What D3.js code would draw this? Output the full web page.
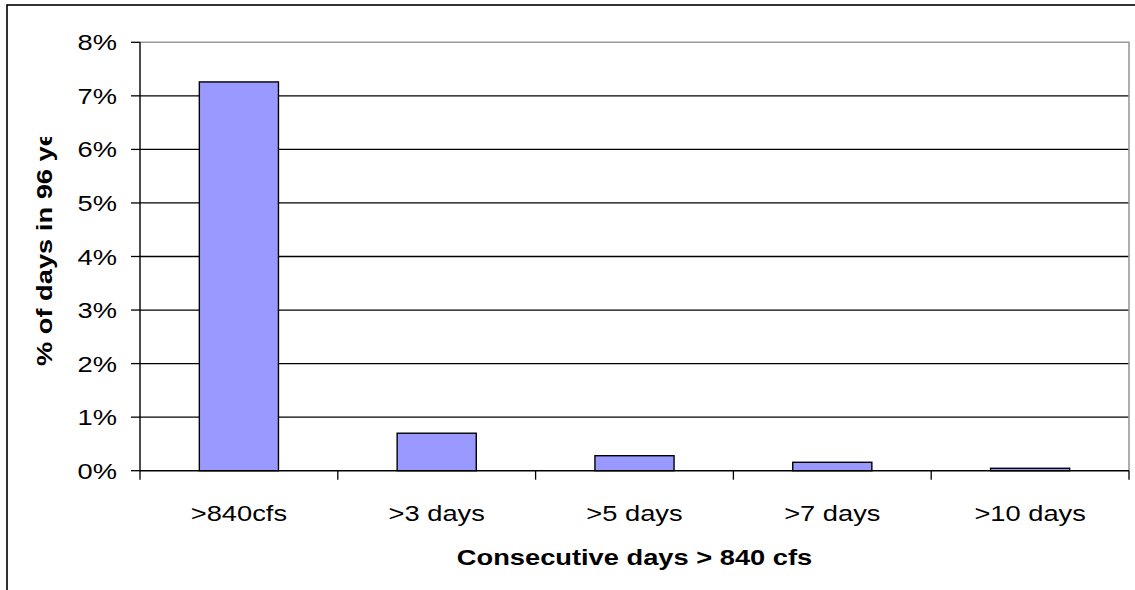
<!DOCTYPE html>
<html>
<head>
<meta charset="utf-8">
<script src="https://cdn.jsdelivr.net/npm/d3@7"></script>
<style>
  html, body { margin: 0; padding: 0; background: #fff; }
  svg { display: block; }
  text { font-family: "Liberation Sans", Arial, sans-serif; fill: #000; }
</style>
</head>
<body>
<svg id="chart" width="1135" height="590"></svg>
<script>
// Share of days above 840 cfs, by length of the consecutive run
const categories = [">840cfs", ">3 days", ">5 days", ">7 days", ">10 days"];
const percentDays = [7.26, 0.70, 0.28, 0.157, 0.045];
const yTicks = [0, 1, 2, 3, 4, 5, 6, 7, 8];
const yTickLabels = ["0%", "1%", "2%", "3%", "4%", "5%", "6%", "7%", "8%"];
const xTitle = "Consecutive days > 840 cfs";
const yTitle = "% of days in 96 years";

const svg = d3.select("#chart");
const W = 1135, H = 590;
const plot = { left: 140, right: 1129, top: 42.3, bottom: 470.7 };
const stretch = 1.24;   // text is drawn wide along its reading direction

const y = d3.scaleLinear().domain([0, 8]).range([plot.bottom, plot.top]);
const x = d3.scaleBand().domain(categories)
  .range([plot.left, plot.right]).paddingInner(0.6).paddingOuter(0.3);
const edges = d3.scaleLinear().domain([0, categories.length]).range([plot.left, plot.right]);

// outer chart frame (runs past the right and bottom edges)
svg.append("rect")
  .attr("x", 7).attr("y", 5).attr("width", W + 20).attr("height", H + 20)
  .attr("fill", "none").attr("stroke", "#000").attr("stroke-width", 1.6);

// horizontal gridlines
svg.append("g").selectAll("line")
  .data(yTicks.filter(t => t > 0 && t < 8))
  .join("line")
  .attr("x1", plot.left).attr("x2", plot.right)
  .attr("y1", d => y(d)).attr("y2", d => y(d))
  .attr("stroke", "#000").attr("stroke-width", 1.3);

// plot area frame: top and right in grey
svg.append("path")
  .attr("d", `M${plot.left},${y(8)}H${plot.right}V${plot.bottom}`)
  .attr("fill", "none").attr("stroke", "#9a9a9a").attr("stroke-width", 1.6);

// bars
svg.append("g").selectAll("rect")
  .data(categories)
  .join("rect")
  .attr("x", d => x(d))
  .attr("width", x.bandwidth())
  .attr("y", (d, i) => y(percentDays[i]))
  .attr("height", (d, i) => y(0) - y(percentDays[i]))
  .attr("fill", "#9999ff")
  .attr("stroke", "#000").attr("stroke-width", 1.4);

// y axis line + ticks
svg.append("line")
  .attr("x1", plot.left).attr("x2", plot.left)
  .attr("y1", y(8)).attr("y2", y(0))
  .attr("stroke", "#000").attr("stroke-width", 1.4);
svg.append("g").selectAll("line")
  .data(yTicks).join("line")
  .attr("x1", plot.left - 9).attr("x2", plot.left)
  .attr("y1", d => y(d)).attr("y2", d => y(d))
  .attr("stroke", "#000").attr("stroke-width", 1.3);

// x axis line + ticks at category boundaries
svg.append("line")
  .attr("x1", plot.left).attr("x2", plot.right)
  .attr("y1", y(0)).attr("y2", y(0))
  .attr("stroke", "#000").attr("stroke-width", 1.4);
svg.append("g").selectAll("line")
  .data(d3.range(categories.length + 1)).join("line")
  .attr("x1", d => edges(d)).attr("x2", d => edges(d))
  .attr("y1", y(0)).attr("y2", y(0) + 9)
  .attr("stroke", "#000").attr("stroke-width", 1.3);

// y tick labels
svg.append("g").selectAll("g")
  .data(yTicks).join("g")
  .attr("transform", d => `translate(117,${y(d) + 8}) scale(${stretch},1)`)
  .append("text")
  .attr("text-anchor", "end")
  .attr("font-size", 22)
  .text((d, i) => yTickLabels[i]);

// x tick labels
svg.append("g").selectAll("g")
  .data(categories).join("g")
  .attr("transform", d => `translate(${x(d) + x.bandwidth() / 2},520.5) scale(${stretch},1)`)
  .append("text")
  .attr("text-anchor", "middle")
  .attr("font-size", 22)
  .text(d => d);

// x axis title
svg.append("g")
  .attr("transform", `translate(${(plot.left + plot.right) / 2},565) scale(${stretch},1)`)
  .append("text")
  .attr("text-anchor", "middle")
  .attr("font-size", 22)
  .attr("font-weight", "bold")
  .text(xTitle);

// y axis title, cut off where the title box ends
svg.append("defs").append("clipPath").attr("id", "ytitle-clip")
  .append("rect").attr("x", 0).attr("y", 137).attr("width", 120).attr("height", 300);
svg.append("g")
  .attr("clip-path", "url(#ytitle-clip)")
  .append("g")
  .attr("transform", `translate(52.3,366) rotate(-90) scale(${stretch},1)`)
  .append("text")
  .attr("text-anchor", "start")
  .attr("font-size", 22)
  .attr("font-weight", "bold")
  .text(yTitle);
</script>
</body>
</html>
